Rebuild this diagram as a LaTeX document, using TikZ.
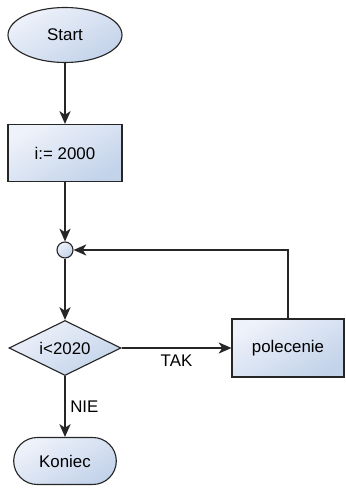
\documentclass[tikz,border=0pt]{standalone}
\usepackage{fontspec}
\setmainfont{Liberation Sans}
\usetikzlibrary{shapes.geometric,shapes.misc,arrows.meta}

\definecolor{fillhi}{HTML}{EEF2FA}
\definecolor{filllo}{HTML}{C3D3EA}
\definecolor{edge}{HTML}{262626}

\begin{document}
\begin{tikzpicture}[
		block/.style={draw=edge, line width=0.8pt, top color=fillhi, bottom color=filllo, shading angle=30,
			minimum width=2.8cm, font=\fontsize{12}{14}\selectfont},
		arr/.style={draw=edge, line width=0.9pt, -{Stealth[length=3.2mm,width=2.8mm,inset=0.9mm]}},
		lbl/.style={font=\fontsize{12}{14}\selectfont}
	]
		\useasboundingbox (0,0) rectangle (8.625,12.325);

		\node[block, ellipse, minimum width=2.85cm, minimum height=1.375cm] (start) at (1.625,11.45) {Start};

		\node[block, rectangle, minimum width=2.85cm, minimum height=1.425cm] (init) at (1.625,8.5) {i:= 2000};

		\node[block, circle, minimum width=0.4cm, minimum height=0.4cm, inner sep=0pt] (join) at (1.625,6.075) {};

		\node[block, diamond, aspect=2.04, minimum width=2.8cm, minimum height=1.375cm, inner sep=0pt] (cond) at (1.625,3.625) {i<2020};

		\node[block, rectangle, minimum height=1.45cm] (body) at (7.2,3.625) {polecenie};

		\node[block, rounded rectangle, minimum height=1.175cm] (stop) at (1.625,0.8) {Koniec};


		\draw[arr] (start) -- (init);
		\draw[arr] (init) -- (join);
		\draw[arr] (join) -- (cond);

		\draw[arr] (cond.east) -- node[lbl, midway, below=1pt] {TAK} (body.west);
		\draw[arr] (body.north) |- (join.east);

		\draw[arr] (cond.south) -- node[lbl, midway, right] {NIE} (stop.north);

	\end{tikzpicture}
\end{document}
